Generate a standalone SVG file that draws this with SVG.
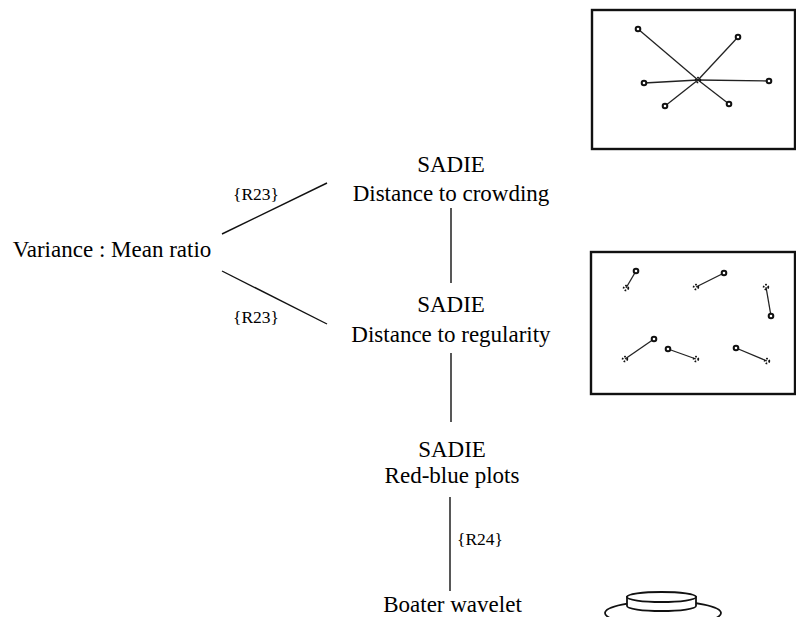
<svg xmlns="http://www.w3.org/2000/svg" width="796" height="617" viewBox="0 0 796 617">
<style>
.t{font-family:"Liberation Serif","Times New Roman",serif;font-size:23px;fill:#000;text-anchor:middle}
.s{font-family:"Liberation Serif","Times New Roman",serif;font-size:17.5px;fill:#000;text-anchor:middle}
.c{stroke:#111;stroke-width:1.4;fill:none}
.box{fill:none;stroke:#111;stroke-width:2.4}
.p{fill:#fff;stroke:#111;stroke-width:2}
.d{fill:none;stroke:#111;stroke-width:1.8;stroke-dasharray:1.5 1.5}
.l{stroke:#222;stroke-width:1.3}
</style>
<rect width="796" height="617" fill="#fff"/>
<g id="connectors">
<line class="c" x1="222" y1="234" x2="327" y2="183"/>
<line class="c" x1="222" y1="271" x2="327" y2="324"/>
<line class="c" x1="451" y1="208" x2="451" y2="283"/>
<line class="c" x1="451" y1="353" x2="451" y2="422"/>
<line class="c" x1="450" y1="497" x2="450" y2="591"/>
<text class="s" x="256" y="200">{R23}</text>
<text class="s" x="256" y="323">{R23}</text>
<text class="s" x="480" y="545">{R24}</text>
</g>
<g id="variance"><text class="t" x="112" y="257">Variance : Mean ratio</text></g>
<g id="crowding"><text class="t" x="451" y="172">SADIE</text><text class="t" x="451" y="201">Distance to crowding</text></g>
<g id="regularity"><text class="t" x="451" y="312">SADIE</text><text class="t" x="451" y="342">Distance to regularity</text></g>
<g id="redblue"><text class="t" x="452" y="457">SADIE</text><text class="t" x="452" y="483">Red-blue plots</text></g>
<g id="boater"><text class="t" x="452.5" y="612">Boater wavelet</text></g>
<g id="crowding-picture">
<rect class="box" x="592" y="10" width="203" height="139"/>
<line class="l" x1="638" y1="29" x2="698" y2="80"/>
<line class="l" x1="738" y1="37" x2="698" y2="80"/>
<line class="l" x1="644" y1="83" x2="698" y2="80"/>
<line class="l" x1="769" y1="81" x2="698" y2="80"/>
<line class="l" x1="665" y1="106" x2="698" y2="80"/>
<line class="l" x1="729" y1="104" x2="698" y2="80"/>
<circle class="p" cx="638" cy="29" r="2.3"/>
<circle class="p" cx="738" cy="37" r="2.3"/>
<circle class="p" cx="644" cy="83" r="2.3"/>
<circle class="p" cx="769" cy="81" r="2.3"/>
<circle class="p" cx="665" cy="106" r="2.3"/>
<circle class="p" cx="729" cy="104" r="2.3"/>
<circle class="d" cx="698" cy="80" r="2.3"/>
</g>
<g id="regularity-picture">
<rect class="box" x="591" y="252" width="204" height="142"/>
<line class="l" x1="636" y1="271" x2="626" y2="288"/>
<line class="l" x1="724" y1="273" x2="696" y2="287"/>
<line class="l" x1="771" y1="316" x2="766" y2="287"/>
<line class="l" x1="654" y1="339" x2="625" y2="359"/>
<line class="l" x1="668" y1="349" x2="696" y2="359"/>
<line class="l" x1="736" y1="348" x2="767" y2="361"/>
<circle class="p" cx="636" cy="271" r="2.3"/>
<circle class="p" cx="724" cy="273" r="2.3"/>
<circle class="p" cx="771" cy="316" r="2.3"/>
<circle class="p" cx="654" cy="339" r="2.3"/>
<circle class="p" cx="668" cy="349" r="2.3"/>
<circle class="p" cx="736" cy="348" r="2.3"/>
<circle class="d" cx="626" cy="288" r="2.3"/>
<circle class="d" cx="696" cy="287" r="2.3"/>
<circle class="d" cx="766" cy="287" r="2.3"/>
<circle class="d" cx="625" cy="359" r="2.3"/>
<circle class="d" cx="696" cy="359" r="2.3"/>
<circle class="d" cx="767" cy="361" r="2.3"/>
</g>
<g id="boater-picture" stroke="#111" stroke-width="1.8">
<ellipse cx="663" cy="613" rx="58" ry="12" fill="none"/>
<path d="M627 597 L627 606 A 34.5 5 0 0 0 696 606 L696 597 Z" fill="#fff"/>
<ellipse cx="661.5" cy="597" rx="34.5" ry="5" fill="#fff"/>
</g>
</svg>
